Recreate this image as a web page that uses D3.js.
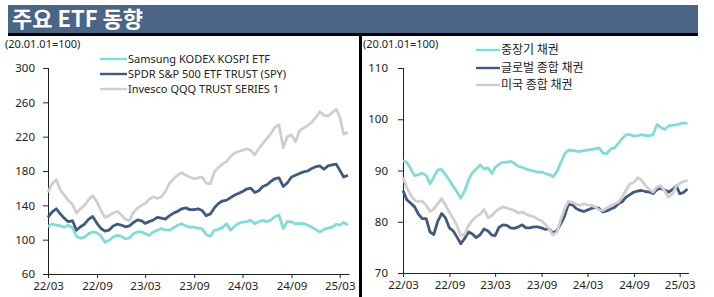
<!DOCTYPE html>
<html><head><meta charset="utf-8">
<script src="https://cdn.jsdelivr.net/npm/d3@7"></script>
<style>
html,body{margin:0;padding:0;background:#fff;}
svg{display:block;}
text{font-family:"Noto Sans","Noto Sans CJK KR",sans-serif;}
</style></head>
<body>
<svg id="chart" width="714" height="297"></svg>
<script>
const title = "주요 ETF 동향";
const baseNote = "(20.01.01=100)";
const dates = ["2022-03-01","2022-03-16","2022-04-01","2022-04-16","2022-05-01","2022-05-16","2022-06-01","2022-06-16","2022-07-01","2022-07-16","2022-08-01","2022-08-16","2022-09-01","2022-09-16","2022-10-01","2022-10-16","2022-11-01","2022-11-16","2022-12-01","2022-12-16","2023-01-01","2023-01-16","2023-02-01","2023-02-16","2023-03-01","2023-03-16","2023-04-01","2023-04-16","2023-05-01","2023-05-16","2023-06-01","2023-06-16","2023-07-01","2023-07-16","2023-08-01","2023-08-16","2023-09-01","2023-09-16","2023-10-01","2023-10-16","2023-11-01","2023-11-16","2023-12-01","2023-12-16","2024-01-01","2024-01-16","2024-02-01","2024-02-16","2024-03-01","2024-03-16","2024-04-01","2024-04-16","2024-05-01","2024-05-16","2024-06-01","2024-06-16","2024-07-01","2024-07-16","2024-08-01","2024-08-16","2024-09-01","2024-09-16","2024-10-01","2024-10-16","2024-11-01","2024-11-16","2024-12-01","2024-12-16","2025-01-01","2025-01-16","2025-02-01","2025-02-16","2025-03-01","2025-03-16","2025-04-01"];
const xTickDates = ["2022-03-01","2022-09-01","2023-03-01","2023-09-01","2024-03-01","2024-09-01","2025-03-01"];
const xTickLabels = ["22/03","22/09","23/03","23/09","24/03","24/09","25/03"];

// Left panel: equity ETFs
const leftNames = ["Samsung KODEX KOSPI ETF","SPDR S&P 500 ETF TRUST (SPY)","Invesco QQQ TRUST SERIES 1"];
const kodex = [115.5,118,117,116,114.5,116.7,114,104,101.5,103,107,109,108,104,97,99,103,105,104,101,102,107,109,109,107,105,109,111,112.8,111.5,111,114,116.7,118.6,116,114.7,114.7,113.5,112.8,106,104,110.9,112,114,118.6,111,116,119,120.6,121,122.5,118.6,121,122.5,121,123,127,128.5,113,121,121,118.6,119,118.6,117,114.5,112,109,112,113.5,114.7,118,117,120,117];
const spy = [126,132,136,130,125,121,122,111,115,118,124,127,119,113,110,111,116,118,117,115,116,120,123,122,119,121,123,126,125,124,128,131,133,136,137,135,135,136,134,128,130,137,142,145,146,149,152,154,156,159,160,155,157,162,164,168,171,172,162,166,173,175,177,179,180,183,185,186,182,186,187,188,181,173,175];
const qqq = [155,165,170,158,152,146,141,131,136,140,147,151,144,134,126,128,131,133,129,124,122,132,137,140,142,147,150,148,150,156,166,171,175,178,175,173,171,172,173,166,165,179,184,188,191,197,201,203,204,206,204,199,206,212,218,224,231,234,207,220,222,214,227,230,233,237,242,249,245,244,248,252,243,223,225];
const leftTicks = [60,100,140,180,220,260,300];

// Right panel: bond ETFs
const rightNames = ["중장기 채권","글로벌 종합 채권","미국 종합 채권"];
const midLong = [91.9,91.6,90.3,89,89.2,89.5,89,87.4,88.7,90.1,90.2,89.2,88.1,86.9,85.8,84.6,86.1,88.2,89.6,90.3,91.1,90.3,90.5,89.4,90.6,91.2,91.6,91.6,91.8,91.4,90.8,90.6,90.3,90.1,89.9,89.7,89.7,89.4,89.2,88.8,89.8,91.5,93.2,94,93.9,93.8,93.7,93.9,94,94.1,94.2,94.4,93.4,93.3,94.2,94.4,95.3,96.2,97,97,96.7,96.8,97,96.8,96.8,97,99,98.4,98,98.7,98.8,98.9,99.1,99.3,99.2];
const globalAgg = [86.1,84.3,83.6,82.9,81.5,80.6,80.6,78,77.5,80,81.6,80.8,78.8,78.2,77,75.7,76.8,78,77.6,76.9,77.5,78.6,78.2,77.4,77.3,78.9,79.4,79.3,78.8,78.7,79,79.4,78.8,78.8,79,79,78.8,78.5,78.6,77.8,78.3,79.6,81.1,83.4,83.3,82.6,82.2,82,82.3,82.6,82.8,82.6,81.9,82.1,82.5,82.8,83.5,83.9,84.8,85.3,85.8,86,86.1,85.9,85.8,85.5,86.3,86.5,86.2,85.8,86.3,87,85.5,85.7,86.4];
const usAgg = [88.7,86.7,85.2,84.2,83.9,84,83.2,82,82.5,83.5,84.5,83.3,81.8,80.6,79.2,77.3,77.6,79.3,80.3,81,81.5,82.4,80.8,81.2,81.9,82.5,82.9,82.7,82.4,82.2,81.7,81.9,81.5,81.2,81,80.5,80.2,79.5,78.6,77.4,78,80.4,82.5,84,83.8,83.4,83.2,83.5,83.3,83.2,82.9,82.3,82.2,82.7,83.1,83.5,83.8,84.8,86.2,87.4,87.7,88.6,88.1,87.1,86.3,85.8,86.8,87,86,84.8,85.5,87,87.5,87.8,88.1];
const rightTicks = [70,80,90,100,110];

const colors = ["#84dbd5","#3f5a7e","#cfcfcf"];

const parse = d3.timeParse("%Y-%m-%d");
const dts = dates.map(parse);
const svg = d3.select("#chart");

// Title bar
svg.append("rect").attr("x",8).attr("y",5).attr("width",690).attr("height",29).attr("fill","#4a6585");
svg.append("rect").attr("x",8).attr("y",33).attr("width",690).attr("height",3).attr("fill","#000");
svg.append("rect").attr("x",359).attr("y",35).attr("width",3).attr("height",262).attr("fill","#000");
svg.append("text").attr("x",12).attr("y",27).attr("fill","#fff")
  .style("font-family","'Noto Sans CJK KR',sans-serif").style("font-weight","bold").style("font-size","22px").text(title);

function panel(opt){
  const x = d3.scaleTime().domain([parse("2022-03-01"), parse("2025-04-05")]).range([opt.x0, opt.x1]);
  const y = d3.scaleLinear().domain(opt.yDomain).range([opt.yBot, opt.yTop]);
  const g = svg.append("g");
  const ya = g.append("g").attr("transform",`translate(${opt.x0},0)`)
    .call(d3.axisLeft(y).tickValues(opt.ticks).tickSize(5).tickSizeOuter(0).tickPadding(opt.yPad).tickFormat(d3.format("d")));
  const xa = g.append("g").attr("transform",`translate(0,${opt.yBot})`)
    .call(d3.axisBottom(x).tickValues(xTickDates.map(parse)).tickSize(4).tickSizeOuter(0).tickPadding(4)
      .tickFormat((d,i)=>xTickLabels[i]));
  [ya,xa].forEach(a=>{
    a.selectAll("path,line").attr("stroke","#222").attr("stroke-width",1);
    a.selectAll("text").attr("fill","#222").style("font-size","11.5px").style("font-family","'Noto Sans',sans-serif");
  });
  ya.select(".domain").attr("d",`M0.5,${opt.yTop}V${opt.yBot}`);
  const line = d3.line().x((d,i)=>x(dts[i])).y(d=>y(d));
  opt.series.forEach((s,k)=>{
    g.append("path").datum(s).attr("d",line).attr("fill","none")
      .attr("stroke",colors[k]).attr("stroke-width",2.8).attr("stroke-linejoin","round");
  });
  g.append("text").attr("x",opt.noteX).attr("y",48).attr("fill","#222").style("font-size","11px").text(baseNote);
  opt.names.forEach((n,k)=>{
    const ly = opt.legY[k];
    g.append("line").attr("x1",opt.legX).attr("x2",opt.legX+opt.legLen).attr("y1",ly).attr("y2",ly)
      .attr("stroke",colors[k]).attr("stroke-width",2.4);
    g.append("text").attr("x",opt.legX+opt.legLen+1).attr("y",ly).attr("dy","0.35em").attr("fill","#222")
      .style("font-size",opt.legFont).style("font-family",opt.legFamily).text(n);
  });
}

panel({x0:48,x1:349,yTop:68,yBot:274,yDomain:[60,300],ticks:leftTicks,yPad:8,
  series:[kodex,spy,qqq],names:leftNames,noteX:5,legX:100,legLen:27,legY:[59,74,89],
  legFont:"11px",legFamily:"'Noto Sans',sans-serif"});
panel({x0:403,x1:688.5,yTop:68,yBot:273,yDomain:[70,110],ticks:rightTicks,yPad:10,
  series:[midLong,globalAgg,usAgg],names:rightNames,noteX:363,legX:476,legLen:24,legY:[50,68,85],
  legFont:"12px",legFamily:"'Noto Sans CJK KR',sans-serif"});
</script>
</body></html>
